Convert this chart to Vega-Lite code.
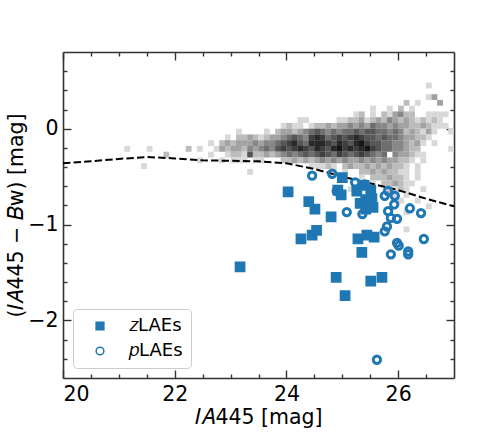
{
  "$schema": "https://vega.github.io/schema/vega-lite/v6.json",
  "width": 391,
  "height": 326,
  "autosize": {"type": "none"},
  "padding": {"left": 63, "top": 52, "right": 50, "bottom": 54},
  "background": "white",
  "config": {
    "view": {"stroke": null},
    "font": "DejaVu Sans",
    "axis": {
      "grid": false,
      "domainColor": "#333333",
      "domainWidth": 1.6,
      "tickColor": "#333333",
      "tickWidth": 1.4,
      "labelColor": "#000000",
      "titleColor": "#000000",
      "labelFont": "DejaVu Sans",
      "titleFont": "DejaVu Sans",
      "labelFontSize": 20.5,
      "titleFontSize": 20.5,
      "titleFontWeight": "normal"
    },
    "legend": {
      "orient": "bottom-left",
      "offset": 10,
      "fillColor": "rgba(255,255,255,0.8)",
      "strokeColor": "#cccccc",
      "cornerRadius": 4,
      "padding": 8,
      "labelFont": "DejaVu Sans",
      "labelFontSize": 18,
      "labelColor": "#000000",
      "symbolSize": 60,
      "symbolOffset": 10,
      "labelOffset": 20,
      "rowPadding": 7
    }
  },
  "datasets": {
    "hist": [
      {"x":26.55,"y":0.45,"n":1},
      {"x":26.55,"y":0.33,"n":1},{"x":26.65,"y":0.33,"n":3},
      {"x":26.15,"y":0.27,"n":2},{"x":26.35,"y":0.27,"n":1},{"x":26.75,"y":0.27,"n":3},
      {"x":25.55,"y":0.21,"n":1},{"x":25.85,"y":0.21,"n":1},{"x":26.05,"y":0.21,"n":2},{"x":26.25,"y":0.21,"n":1},
      {"x":25.25,"y":0.15,"n":1},{"x":25.35,"y":0.15,"n":2},{"x":25.55,"y":0.15,"n":1},{"x":25.75,"y":0.15,"n":2},{"x":25.85,"y":0.15,"n":1},{"x":25.95,"y":0.15,"n":3},{"x":26.05,"y":0.15,"n":4},{"x":26.15,"y":0.15,"n":2},{"x":26.25,"y":0.15,"n":2},{"x":26.55,"y":0.15,"n":1},{"x":26.65,"y":0.15,"n":1},{"x":26.75,"y":0.15,"n":1},{"x":26.85,"y":0.15,"n":1},
      {"x":24.25,"y":0.09,"n":1},{"x":24.35,"y":0.09,"n":1},{"x":24.95,"y":0.09,"n":1},{"x":25.05,"y":0.09,"n":1},{"x":25.15,"y":0.09,"n":2},{"x":25.25,"y":0.09,"n":2},{"x":25.35,"y":0.09,"n":3},{"x":25.45,"y":0.09,"n":1},{"x":25.55,"y":0.09,"n":2},{"x":25.65,"y":0.09,"n":3},{"x":25.75,"y":0.09,"n":2},{"x":25.85,"y":0.09,"n":4},{"x":25.95,"y":0.09,"n":3},{"x":26.05,"y":0.09,"n":2},{"x":26.15,"y":0.09,"n":3},{"x":26.25,"y":0.09,"n":2},{"x":26.35,"y":0.09,"n":1},{"x":26.45,"y":0.09,"n":2},{"x":26.55,"y":0.09,"n":1},{"x":26.65,"y":0.09,"n":2},{"x":26.75,"y":0.09,"n":1},
      {"x":23.95,"y":0.03,"n":1},{"x":24.05,"y":0.03,"n":2},{"x":24.15,"y":0.03,"n":1},{"x":24.25,"y":0.03,"n":1},{"x":24.45,"y":0.03,"n":1},{"x":24.55,"y":0.03,"n":2},{"x":24.65,"y":0.03,"n":2},{"x":24.75,"y":0.03,"n":3},{"x":24.85,"y":0.03,"n":2},{"x":24.95,"y":0.03,"n":3},{"x":25.05,"y":0.03,"n":3},{"x":25.15,"y":0.03,"n":4},{"x":25.25,"y":0.03,"n":3},{"x":25.35,"y":0.03,"n":4},{"x":25.45,"y":0.03,"n":3},{"x":25.55,"y":0.03,"n":5},{"x":25.65,"y":0.03,"n":4},{"x":25.75,"y":0.03,"n":4},{"x":25.85,"y":0.03,"n":3},{"x":25.95,"y":0.03,"n":4},{"x":26.05,"y":0.03,"n":3},{"x":26.15,"y":0.03,"n":3},{"x":26.25,"y":0.03,"n":2},{"x":26.35,"y":0.03,"n":2},{"x":26.45,"y":0.03,"n":3},{"x":26.55,"y":0.03,"n":2},{"x":26.65,"y":0.03,"n":1},{"x":26.75,"y":0.03,"n":1},{"x":26.85,"y":0.03,"n":1},
      {"x":23.15,"y":-0.03,"n":1},{"x":23.65,"y":-0.03,"n":1},{"x":23.85,"y":-0.03,"n":2},{"x":23.95,"y":-0.03,"n":3},{"x":24.05,"y":-0.03,"n":3},{"x":24.15,"y":-0.03,"n":2},{"x":24.25,"y":-0.03,"n":3},{"x":24.35,"y":-0.03,"n":4},{"x":24.45,"y":-0.03,"n":5},{"x":24.55,"y":-0.03,"n":6},{"x":24.65,"y":-0.03,"n":5},{"x":24.75,"y":-0.03,"n":4},{"x":24.85,"y":-0.03,"n":5},{"x":24.95,"y":-0.03,"n":4},{"x":25.05,"y":-0.03,"n":5},{"x":25.15,"y":-0.03,"n":5},{"x":25.25,"y":-0.03,"n":6},{"x":25.35,"y":-0.03,"n":5},{"x":25.45,"y":-0.03,"n":6},{"x":25.55,"y":-0.03,"n":6},{"x":25.65,"y":-0.03,"n":5},{"x":25.75,"y":-0.03,"n":5},{"x":25.85,"y":-0.03,"n":4},{"x":25.95,"y":-0.03,"n":5},{"x":26.05,"y":-0.03,"n":4},{"x":26.15,"y":-0.03,"n":2},{"x":26.25,"y":-0.03,"n":3},{"x":26.35,"y":-0.03,"n":2},{"x":26.45,"y":-0.03,"n":1},{"x":26.55,"y":-0.03,"n":3},{"x":26.65,"y":-0.03,"n":1},{"x":26.95,"y":-0.03,"n":1},
      {"x":22.95,"y":-0.09,"n":1},{"x":23.15,"y":-0.09,"n":2},{"x":23.25,"y":-0.09,"n":2},{"x":23.35,"y":-0.09,"n":3},{"x":23.45,"y":-0.09,"n":2},{"x":23.55,"y":-0.09,"n":1},{"x":23.65,"y":-0.09,"n":2},{"x":23.75,"y":-0.09,"n":3},{"x":23.85,"y":-0.09,"n":3},{"x":23.95,"y":-0.09,"n":4},{"x":24.05,"y":-0.09,"n":5},{"x":24.15,"y":-0.09,"n":6},{"x":24.25,"y":-0.09,"n":5},{"x":24.35,"y":-0.09,"n":4},{"x":24.45,"y":-0.09,"n":7},{"x":24.55,"y":-0.09,"n":8},{"x":24.65,"y":-0.09,"n":7},{"x":24.75,"y":-0.09,"n":5},{"x":24.85,"y":-0.09,"n":6},{"x":24.95,"y":-0.09,"n":7},{"x":25.05,"y":-0.09,"n":6},{"x":25.15,"y":-0.09,"n":7},{"x":25.25,"y":-0.09,"n":8},{"x":25.35,"y":-0.09,"n":7},{"x":25.45,"y":-0.09,"n":6},{"x":25.55,"y":-0.09,"n":6},{"x":25.65,"y":-0.09,"n":5},{"x":25.75,"y":-0.09,"n":6},{"x":25.85,"y":-0.09,"n":5},{"x":25.95,"y":-0.09,"n":5},{"x":26.05,"y":-0.09,"n":4},{"x":26.15,"y":-0.09,"n":3},{"x":26.25,"y":-0.09,"n":3},{"x":26.35,"y":-0.09,"n":2},{"x":26.45,"y":-0.09,"n":2},{"x":26.55,"y":-0.09,"n":1},
      {"x":22.65,"y":-0.15,"n":1},{"x":22.85,"y":-0.15,"n":2},{"x":22.95,"y":-0.15,"n":3},{"x":23.05,"y":-0.15,"n":2},{"x":23.15,"y":-0.15,"n":3},{"x":23.25,"y":-0.15,"n":3},{"x":23.35,"y":-0.15,"n":3},{"x":23.45,"y":-0.15,"n":4},{"x":23.55,"y":-0.15,"n":3},{"x":23.65,"y":-0.15,"n":4},{"x":23.75,"y":-0.15,"n":4},{"x":23.85,"y":-0.15,"n":5},{"x":23.95,"y":-0.15,"n":6},{"x":24.05,"y":-0.15,"n":7},{"x":24.15,"y":-0.15,"n":8},{"x":24.25,"y":-0.15,"n":6},{"x":24.35,"y":-0.15,"n":5},{"x":24.45,"y":-0.15,"n":8},{"x":24.55,"y":-0.15,"n":8},{"x":24.65,"y":-0.15,"n":8},{"x":24.75,"y":-0.15,"n":7},{"x":24.85,"y":-0.15,"n":6},{"x":24.95,"y":-0.15,"n":8},{"x":25.05,"y":-0.15,"n":7},{"x":25.15,"y":-0.15,"n":6},{"x":25.25,"y":-0.15,"n":8},{"x":25.35,"y":-0.15,"n":9},{"x":25.45,"y":-0.15,"n":7},{"x":25.55,"y":-0.15,"n":6},{"x":25.65,"y":-0.15,"n":6},{"x":25.75,"y":-0.15,"n":5},{"x":25.85,"y":-0.15,"n":5},{"x":25.95,"y":-0.15,"n":4},{"x":26.05,"y":-0.15,"n":4},{"x":26.15,"y":-0.15,"n":3},{"x":26.25,"y":-0.15,"n":2},{"x":26.35,"y":-0.15,"n":3},{"x":26.45,"y":-0.15,"n":1},{"x":26.65,"y":-0.15,"n":1},
      {"x":21.15,"y":-0.21,"n":1},{"x":21.55,"y":-0.21,"n":1},{"x":22.25,"y":-0.21,"n":2},{"x":22.45,"y":-0.21,"n":1},{"x":22.75,"y":-0.21,"n":1},{"x":22.85,"y":-0.21,"n":3},{"x":22.95,"y":-0.21,"n":2},{"x":23.05,"y":-0.21,"n":3},{"x":23.15,"y":-0.21,"n":3},{"x":23.25,"y":-0.21,"n":2},{"x":23.35,"y":-0.21,"n":4},{"x":23.45,"y":-0.21,"n":3},{"x":23.55,"y":-0.21,"n":4},{"x":23.65,"y":-0.21,"n":5},{"x":23.75,"y":-0.21,"n":4},{"x":23.85,"y":-0.21,"n":6},{"x":23.95,"y":-0.21,"n":7},{"x":24.05,"y":-0.21,"n":6},{"x":24.15,"y":-0.21,"n":7},{"x":24.25,"y":-0.21,"n":8},{"x":24.35,"y":-0.21,"n":7},{"x":24.45,"y":-0.21,"n":6},{"x":24.55,"y":-0.21,"n":8},{"x":24.65,"y":-0.21,"n":7},{"x":24.75,"y":-0.21,"n":6},{"x":24.85,"y":-0.21,"n":8},{"x":24.95,"y":-0.21,"n":9},{"x":25.05,"y":-0.21,"n":7},{"x":25.15,"y":-0.21,"n":8},{"x":25.25,"y":-0.21,"n":7},{"x":25.35,"y":-0.21,"n":8},{"x":25.45,"y":-0.21,"n":9},{"x":25.55,"y":-0.21,"n":7},{"x":25.65,"y":-0.21,"n":6},{"x":25.75,"y":-0.21,"n":5},{"x":25.85,"y":-0.21,"n":5},{"x":25.95,"y":-0.21,"n":4},{"x":26.05,"y":-0.21,"n":4},{"x":26.15,"y":-0.21,"n":3},{"x":26.25,"y":-0.21,"n":2},{"x":26.35,"y":-0.21,"n":2},{"x":26.95,"y":-0.21,"n":1},
      {"x":21.85,"y":-0.27,"n":2},{"x":22.65,"y":-0.27,"n":1},{"x":22.95,"y":-0.27,"n":1},{"x":23.05,"y":-0.27,"n":2},{"x":23.15,"y":-0.27,"n":2},{"x":23.25,"y":-0.27,"n":1},{"x":23.35,"y":-0.27,"n":6},{"x":23.45,"y":-0.27,"n":2},{"x":23.55,"y":-0.27,"n":2},{"x":23.65,"y":-0.27,"n":3},{"x":23.75,"y":-0.27,"n":2},{"x":23.85,"y":-0.27,"n":3},{"x":23.95,"y":-0.27,"n":4},{"x":24.05,"y":-0.27,"n":5},{"x":24.15,"y":-0.27,"n":4},{"x":24.25,"y":-0.27,"n":5},{"x":24.35,"y":-0.27,"n":6},{"x":24.45,"y":-0.27,"n":5},{"x":24.55,"y":-0.27,"n":6},{"x":24.65,"y":-0.27,"n":7},{"x":24.75,"y":-0.27,"n":6},{"x":24.85,"y":-0.27,"n":5},{"x":24.95,"y":-0.27,"n":7},{"x":25.05,"y":-0.27,"n":6},{"x":25.15,"y":-0.27,"n":5},{"x":25.25,"y":-0.27,"n":6},{"x":25.35,"y":-0.27,"n":7},{"x":25.45,"y":-0.27,"n":6},{"x":25.55,"y":-0.27,"n":5},{"x":25.65,"y":-0.27,"n":4},{"x":25.75,"y":-0.27,"n":5},{"x":25.95,"y":-0.27,"n":4},{"x":26.05,"y":-0.27,"n":3},{"x":26.15,"y":-0.27,"n":3},{"x":26.25,"y":-0.27,"n":2},{"x":26.35,"y":-0.27,"n":1},{"x":26.45,"y":-0.27,"n":1},
      {"x":22.45,"y":-0.33,"n":1},{"x":22.85,"y":-0.33,"n":1},{"x":23.05,"y":-0.33,"n":1},{"x":23.15,"y":-0.33,"n":1},{"x":23.25,"y":-0.33,"n":1},{"x":23.45,"y":-0.33,"n":1},{"x":23.55,"y":-0.33,"n":1},{"x":23.95,"y":-0.33,"n":2},{"x":24.05,"y":-0.33,"n":2},{"x":24.15,"y":-0.33,"n":3},{"x":24.25,"y":-0.33,"n":2},{"x":24.35,"y":-0.33,"n":3},{"x":24.45,"y":-0.33,"n":2},{"x":24.55,"y":-0.33,"n":3},{"x":24.65,"y":-0.33,"n":4},{"x":24.75,"y":-0.33,"n":3},{"x":24.85,"y":-0.33,"n":4},{"x":24.95,"y":-0.33,"n":3},{"x":25.05,"y":-0.33,"n":4},{"x":25.15,"y":-0.33,"n":3},{"x":25.25,"y":-0.33,"n":3},{"x":25.35,"y":-0.33,"n":4},{"x":25.45,"y":-0.33,"n":3},{"x":25.55,"y":-0.33,"n":4},{"x":25.65,"y":-0.33,"n":3},{"x":25.75,"y":-0.33,"n":4},{"x":25.85,"y":-0.33,"n":3},{"x":25.95,"y":-0.33,"n":3},{"x":26.05,"y":-0.33,"n":2},{"x":26.15,"y":-0.33,"n":2},{"x":26.25,"y":-0.33,"n":1},{"x":26.45,"y":-0.33,"n":1},
      {"x":21.45,"y":-0.39,"n":1},{"x":24.45,"y":-0.39,"n":1},{"x":24.55,"y":-0.39,"n":1},{"x":24.65,"y":-0.39,"n":1},{"x":24.75,"y":-0.39,"n":2},{"x":24.85,"y":-0.39,"n":1},{"x":25.05,"y":-0.39,"n":2},{"x":25.15,"y":-0.39,"n":3},{"x":25.25,"y":-0.39,"n":2},{"x":25.35,"y":-0.39,"n":2},{"x":25.45,"y":-0.39,"n":3},{"x":25.55,"y":-0.39,"n":2},{"x":25.65,"y":-0.39,"n":3},{"x":25.75,"y":-0.39,"n":2},{"x":25.85,"y":-0.39,"n":3},{"x":25.95,"y":-0.39,"n":2},{"x":26.05,"y":-0.39,"n":2},{"x":26.15,"y":-0.39,"n":1},{"x":26.35,"y":-0.39,"n":1},
      {"x":23.35,"y":-0.45,"n":1},{"x":24.85,"y":-0.45,"n":1},{"x":25.05,"y":-0.45,"n":1},{"x":25.35,"y":-0.45,"n":2},{"x":25.45,"y":-0.45,"n":2},{"x":25.55,"y":-0.45,"n":3},{"x":25.65,"y":-0.45,"n":2},{"x":25.75,"y":-0.45,"n":3},{"x":25.85,"y":-0.45,"n":2},{"x":25.95,"y":-0.45,"n":2},{"x":26.05,"y":-0.45,"n":1},{"x":26.15,"y":-0.45,"n":1},{"x":26.35,"y":-0.45,"n":1},
      {"x":25.35,"y":-0.51,"n":1},{"x":25.55,"y":-0.51,"n":2},{"x":25.65,"y":-0.51,"n":2},{"x":25.75,"y":-0.51,"n":2},{"x":25.85,"y":-0.51,"n":3},{"x":25.95,"y":-0.51,"n":2},{"x":26.05,"y":-0.51,"n":2},{"x":26.15,"y":-0.51,"n":1},{"x":26.35,"y":-0.51,"n":1},
      {"x":25.55,"y":-0.57,"n":1},{"x":25.75,"y":-0.57,"n":2},{"x":25.85,"y":-0.57,"n":2},{"x":25.95,"y":-0.57,"n":3},{"x":26.05,"y":-0.57,"n":2},{"x":26.15,"y":-0.57,"n":1},{"x":26.25,"y":-0.57,"n":1},
      {"x":25.15,"y":-0.63,"n":1},{"x":25.85,"y":-0.63,"n":2},{"x":25.95,"y":-0.63,"n":1},{"x":26.05,"y":-0.63,"n":2},{"x":26.15,"y":-0.63,"n":1},{"x":26.45,"y":-0.63,"n":1},
      {"x":25.95,"y":-0.69,"n":1},{"x":26.15,"y":-0.69,"n":1},
      {"x":26.05,"y":-0.75,"n":1},{"x":26.35,"y":-0.75,"n":1},
      {"x":26.55,"y":-0.81,"n":1},
      {"x":26.15,"y":-0.87,"n":1},
      {"x":26.15,"y":-1.05,"n":1}
    ],
    "curve": [
      {"x":20.0,"y":-0.36},{"x":20.5,"y":-0.34},{"x":21.0,"y":-0.315},{"x":21.5,"y":-0.295},{"x":22.0,"y":-0.31},{"x":22.5,"y":-0.33},{"x":23.0,"y":-0.335},{"x":23.5,"y":-0.34},{"x":24.0,"y":-0.36},{"x":24.5,"y":-0.42},{"x":25.0,"y":-0.5},{"x":25.5,"y":-0.57},{"x":26.0,"y":-0.64},{"x":26.5,"y":-0.73},{"x":27.0,"y":-0.81}
    ],
    "zlaes": [
      {"x":24.03,"y":-0.66,"sample":"zLAEs"},{"x":24.40,"y":-0.76,"sample":"zLAEs"},{"x":24.51,"y":-0.84,"sample":"zLAEs"},{"x":24.80,"y":-0.92,"sample":"zLAEs"},
      {"x":24.92,"y":-0.64,"sample":"zLAEs"},{"x":24.98,"y":-0.69,"sample":"zLAEs"},{"x":25.0,"y":-0.51,"sample":"zLAEs"},
      {"x":25.26,"y":-0.65,"sample":"zLAEs"},{"x":25.39,"y":-0.59,"sample":"zLAEs"},{"x":25.51,"y":-0.64,"sample":"zLAEs"},{"x":25.32,"y":-0.78,"sample":"zLAEs"},{"x":25.42,"y":-0.74,"sample":"zLAEs"},{"x":25.53,"y":-0.73,"sample":"zLAEs"},{"x":25.42,"y":-0.84,"sample":"zLAEs"},{"x":25.55,"y":-0.82,"sample":"zLAEs"},
      {"x":24.26,"y":-1.15,"sample":"zLAEs"},{"x":24.46,"y":-1.11,"sample":"zLAEs"},{"x":24.54,"y":-1.06,"sample":"zLAEs"},
      {"x":25.28,"y":-1.15,"sample":"zLAEs"},{"x":25.44,"y":-1.11,"sample":"zLAEs"},{"x":25.57,"y":-1.13,"sample":"zLAEs"},{"x":25.35,"y":-1.29,"sample":"zLAEs"},
      {"x":23.17,"y":-1.44,"sample":"zLAEs"},{"x":24.89,"y":-1.55,"sample":"zLAEs"},{"x":25.05,"y":-1.74,"sample":"zLAEs"},{"x":25.51,"y":-1.59,"sample":"zLAEs"},{"x":25.71,"y":-1.55,"sample":"zLAEs"}
    ],
    "plaes": [
      {"x":24.46,"y":-0.49,"sample":"pLAEs"},{"x":24.82,"y":-0.47,"sample":"pLAEs"},{"x":24.90,"y":-0.65,"sample":"pLAEs"},{"x":25.08,"y":-0.87,"sample":"pLAEs"},{"x":25.36,"y":-0.89,"sample":"pLAEs"},
      {"x":25.23,"y":-0.56,"sample":"pLAEs"},{"x":25.41,"y":-0.58,"sample":"pLAEs"},{"x":25.76,"y":-0.70,"sample":"pLAEs"},{"x":25.82,"y":-0.65,"sample":"pLAEs"},{"x":25.94,"y":-0.70,"sample":"pLAEs"},
      {"x":25.93,"y":-0.79,"sample":"pLAEs"},{"x":25.82,"y":-0.86,"sample":"pLAEs"},{"x":25.87,"y":-0.93,"sample":"pLAEs"},{"x":25.98,"y":-0.94,"sample":"pLAEs"},{"x":26.21,"y":-0.83,"sample":"pLAEs"},
      {"x":26.41,"y":-0.88,"sample":"pLAEs"},{"x":25.80,"y":-1.02,"sample":"pLAEs"},{"x":25.76,"y":-1.07,"sample":"pLAEs"},{"x":26.46,"y":-1.15,"sample":"pLAEs"},{"x":25.87,"y":-1.31,"sample":"pLAEs"},
      {"x":26.18,"y":-1.28,"sample":"pLAEs"},{"x":26.18,"y":-1.31,"sample":"pLAEs"},{"x":25.98,"y":-1.19,"sample":"pLAEs"},{"x":26.01,"y":-1.22,"sample":"pLAEs"},{"x":25.62,"y":-2.41,"sample":"pLAEs"}
    ]
  },
  "resolve": {"axis": {"x": "independent", "y": "independent"}},
  "layer": [
    {
      "data": {"name": "hist"},
      "mark": {"type": "square", "size": 34, "opacity": 1, "clip": true},
      "encoding": {
        "x": {"field": "x", "type": "quantitative", "scale": {"domain": [20, 27], "nice": false, "zero": false},
              "axis": {"orient": "bottom", "values": [20, 22, 24, 26], "tickSize": -8, "labelPadding": 14, "title": "𝐼𝐴445 [mag]", "titlePadding": 3}},
        "y": {"field": "y", "type": "quantitative", "scale": {"domain": [-2.6, 0.8], "nice": false, "zero": false},
              "axis": {"orient": "left", "values": [-2, -1, 0], "tickSize": -8, "labelPadding": 13, "title": "(𝐼𝐴445 − 𝐵ᴡ) [mag]", "titlePadding": 1}},
        "color": {"field": "n", "type": "quantitative", "scale": {"domain": [1, 9], "range": ["#d8d8d8", "#151515"]}, "legend": null}
      }
    },
    {
      "data": {"name": "curve"},
      "mark": {"type": "line", "color": "#000000", "strokeWidth": 2, "strokeDash": [7.4, 3.2], "clip": true},
      "encoding": {
        "x": {"field": "x", "type": "quantitative", "scale": {"domain": [20, 27], "nice": false, "zero": false},
              "axis": {"orient": "bottom", "values": [20.5, 21, 21.5, 22.5, 23, 23.5, 24.5, 25, 25.5, 26.5], "tickSize": -4, "labels": false, "domain": false, "title": null}},
        "y": {"field": "y", "type": "quantitative", "scale": {"domain": [-2.6, 0.8], "nice": false, "zero": false},
              "axis": {"orient": "left", "values": [-2.4, -2.2, -1.8, -1.6, -1.4, -1.2, -0.8, -0.6, -0.4, -0.2, 0.2, 0.4, 0.6], "tickSize": -4, "labels": false, "domain": false, "title": null}}
      }
    },
    {
      "data": {"name": "zlaes"},
      "mark": {"type": "point", "size": 60, "stroke": "#1f77b4", "strokeWidth": 3, "opacity": 1, "clip": true},
      "encoding": {
        "x": {"field": "x", "type": "quantitative", "scale": {"domain": [20, 27], "nice": false, "zero": false},
              "axis": {"orient": "top", "values": [20, 22, 24, 26], "tickSize": -8, "labels": false, "title": null}},
        "y": {"field": "y", "type": "quantitative", "scale": {"domain": [-2.6, 0.8], "nice": false, "zero": false},
              "axis": {"orient": "right", "values": [-2, -1, 0], "tickSize": -8, "labels": false, "title": null}},
        "shape": {"field": "sample", "type": "nominal", "scale": {"domain": ["zLAEs", "pLAEs"], "range": ["square", "circle"]},
                  "legend": {"title": null, "labelExpr": "datum.label == 'zLAEs' ? '𝑧LAEs' : '𝑝LAEs'",
                             "encode": {"symbols": {"update": {"stroke": {"value": "#1f77b4"}, "strokeWidth": {"value": 3}}}}}},
        "fill": {"field": "sample", "type": "nominal", "scale": {"domain": ["zLAEs", "pLAEs"], "range": ["#1f77b4", "transparent"]},
                 "legend": {"title": null, "labelExpr": "datum.label == 'zLAEs' ? '𝑧LAEs' : '𝑝LAEs'",
                            "encode": {"symbols": {"update": {"stroke": {"value": "#1f77b4"}, "strokeWidth": {"value": 3}}}}}}
      }
    },
    {
      "data": {"name": "plaes"},
      "mark": {"type": "point", "size": 54, "stroke": "#1f77b4", "strokeWidth": 3, "opacity": 1, "clip": true},
      "encoding": {
        "x": {"field": "x", "type": "quantitative", "scale": {"domain": [20, 27], "nice": false, "zero": false},
              "axis": {"orient": "top", "values": [20.5, 21, 21.5, 22.5, 23, 23.5, 24.5, 25, 25.5, 26.5], "tickSize": -4, "labels": false, "domain": false, "title": null}},
        "y": {"field": "y", "type": "quantitative", "scale": {"domain": [-2.6, 0.8], "nice": false, "zero": false},
              "axis": {"orient": "right", "values": [-2.4, -2.2, -1.8, -1.6, -1.4, -1.2, -0.8, -0.6, -0.4, -0.2, 0.2, 0.4, 0.6], "tickSize": -4, "labels": false, "domain": false, "title": null}},
        "shape": {"field": "sample", "type": "nominal", "scale": {"domain": ["zLAEs", "pLAEs"], "range": ["square", "circle"]},
                  "legend": {"title": null, "labelExpr": "datum.label == 'zLAEs' ? '𝑧LAEs' : '𝑝LAEs'",
                             "encode": {"symbols": {"update": {"stroke": {"value": "#1f77b4"}, "strokeWidth": {"value": 3}}}}}},
        "fill": {"field": "sample", "type": "nominal", "scale": {"domain": ["zLAEs", "pLAEs"], "range": ["#1f77b4", "transparent"]},
                 "legend": {"title": null, "labelExpr": "datum.label == 'zLAEs' ? '𝑧LAEs' : '𝑝LAEs'",
                            "encode": {"symbols": {"update": {"stroke": {"value": "#1f77b4"}, "strokeWidth": {"value": 3}}}}}}
      }
    }
  ]
}
